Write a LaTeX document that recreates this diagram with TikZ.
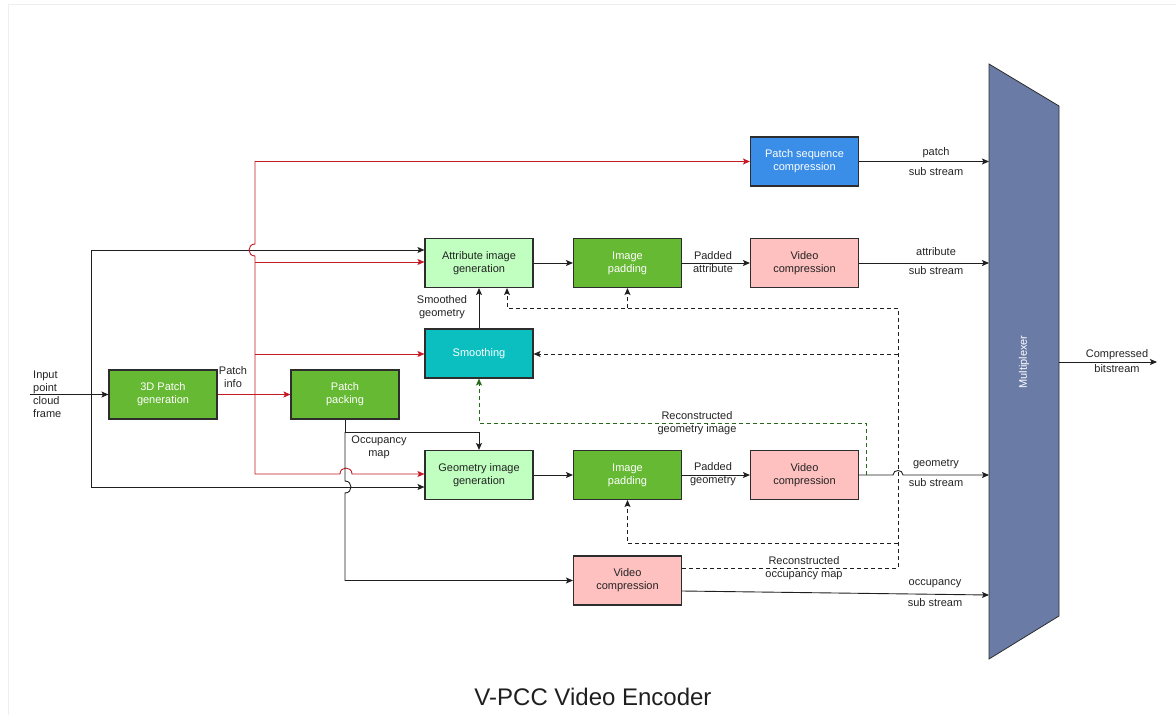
\documentclass[tikz,border=0pt]{standalone}
\usepackage{fontspec}
\setmainfont{Liberation Sans}
\usetikzlibrary{arrows.meta}
\definecolor{dgreen}{RGB}{102,185,51}
\definecolor{lgreen}{RGB}{192,255,192}
\definecolor{pinkf}{RGB}{255,192,192}
\definecolor{bluef}{RGB}{58,142,232}
\definecolor{tealf}{RGB}{11,191,192}
\definecolor{muxf}{RGB}{106,123,166}
\definecolor{redl}{RGB}{196,26,36}
\definecolor{dgline}{RGB}{40,105,25}
\definecolor{boxline}{RGB}{45,45,45}
\definecolor{txt}{RGB}{35,35,35}
\definecolor{framec}{RGB}{238,238,238}
\begin{document}
\begin{tikzpicture}[x=1pt,y=-1pt,
  box/.style={draw=boxline, line width=1.1pt, minimum width=108pt, minimum height=49pt,
    align=center, inner sep=1pt, font=\fontsize{11}{13}\selectfont},
  dgbox/.style={box, fill=dgreen, text=white},
  lgbox/.style={box, fill=lgreen, text=txt},
  pkbox/.style={box, fill=pinkf, text=txt},
  blbox/.style={box, fill=bluef, text=white},
  tlbox/.style={box, fill=tealf, text=white},
  lbl/.style={font=\fontsize{11}{13}\selectfont, text=txt, align=center, inner sep=0pt},
  conn/.style={line width=0.9pt, draw=black!88, -{Stealth[length=7pt,width=6pt,inset=1.5pt]}},
  plainln/.style={line width=0.9pt, draw=black!88},
  rconn/.style={conn, draw=redl},
  rplain/.style={plainln, draw=redl},
  dconn/.style={conn, dash pattern=on 4pt off 3pt},
  dplain/.style={plainln, dash pattern=on 4pt off 3pt},
  gconn/.style={dconn, draw=dgline}
]
\useasboundingbox (0,0) rectangle (1176,715);
\draw[framec, line width=0.8pt] (8,715) -- (8,4) -- (1176,4);

% boxes
\node[dgbox] (gen3d) at (163,394.5) {3D Patch\\generation};
\node[dgbox] (pack) at (345,394.5) {Patch\\packing};
\node[blbox] (psc) at (804.5,161.5) {Patch sequence\\compression};
\node[lgbox] (attr) at (479,263) {Attribute image\\generation};
\node[dgbox] (padA) at (627.5,263) {Image\\padding};
\node[pkbox] (vidA) at (804.5,263) {Video\\compression};
\node[tlbox] (smooth) at (479,353.5) {Smoothing};
\node[lgbox] (geo) at (479,475) {Geometry image\\generation};
\node[dgbox] (padG) at (627.5,475) {Image\\padding};
\node[pkbox] (vidG) at (804.5,475) {Video\\compression};
\node[pkbox] (vidO) at (627.5,580.5) {Video\\compression};

% multiplexer
\coordinate (mTL) at (989,64);
\coordinate (mTR) at (1059,106);
\coordinate (mBR) at (1059,616);
\coordinate (mBL) at (989,659);
\draw[fill=muxf, draw=boxline, line width=0.8pt] (mTL) -- (mTR) -- (mBR) -- (mBL) -- cycle;
\node[font=\fontsize{11}{13}\selectfont, text=white, rotate=90] (mux) at (1024,362) {Multiplexer};
\coordinate (muxR) at (1059,362);
\coordinate (out) at (1157,362);
\draw[conn] (muxR) -- (out);
\node[lbl] (lcb1) at (1117,355) {Compressed};
\node[lbl] (lcb2) at (1117,369) {bitstream};

% input
\coordinate (inS) at (30,394.5);
\coordinate (inJ) at (91,394.5);
\draw[conn] (inS) -- (gen3d.west);
\node[lbl, align=left, anchor=west] (linput) at (33,394.5) {Input\\point\\cloud\\frame};
\draw[conn] (inJ) -- (91,250) -- (attr.west |- 0,250);
\draw[conn] (inJ) -- (91,487) -- (geo.west |- 0,487);

% patch info (red)
\coordinate (pJ) at (255,394.5);
\draw[rconn] (gen3d.east) -- (pack.west);
\node[lbl] (lpi) at (233,377) {Patch\\info};
\draw[rconn] (pJ) -- (255,256) .. controls (247,256) and (247,244) .. (255,244) |- (psc.west);
\draw[rconn] (pJ) -- (255,474) -- (340,474) .. controls (340,466) and (352,466) .. (352,474) -- (geo.west |- 0,474);
\draw[rconn] (255,262) -- (attr.west |- 0,262);
\draw[rconn] (255,354) -- (smooth.west |- 0,354);

% occupancy map
\draw[conn] (pack.south) -- (345,432) -| (geo.north);
\draw[conn] (345,432) -- (345,481) .. controls (353,481) and (353,493) .. (345,493) |- (vidO.west);
\node[lbl] (lom) at (379,447.5) {Occupancy\\map};

% attribute chain
\draw[conn] (attr.east) -- (padA.west);
\draw[conn] (padA.east) -- (vidA.west);
\node[lbl] (lpa) at (713,262) {Padded\\attribute};
\draw[conn] (smooth.north) -- (attr.south);
\node[lbl] (lsg) at (442,307) {Smoothed\\geometry};

% geometry chain
\draw[conn] (geo.east) -- (padG.west);
\draw[conn] (padG.east) -- (vidG.west);
\node[lbl] (lpg) at (713,474) {Padded\\geometry};

% outputs to multiplexer
\draw[conn] (psc.east) -- (psc.east -| mTL);
\node[lbl] (ls1a) at (936,153) {patch};
\node[lbl] (ls1b) at (936,172) {sub stream};
\draw[conn] (vidA.east) -- (vidA.east -| mTL);
\node[lbl] (ls2a) at (936,252) {attribute};
\node[lbl] (ls2b) at (936,271) {sub stream};
\draw[conn] (vidG.east) -- (893,475) .. controls (893,469) and (903,469) .. (903,475) -- (vidG.east -| mTL);
\node[lbl] (ls3a) at (936,464) {geometry};
\node[lbl] (ls3b) at (936,483) {sub stream};
\draw[conn] (vidO.east |- 0,591) -- (989,595);
\node[lbl] (ls4a) at (935,584) {occupancy};
\node[lbl] (ls4b) at (935,603) {sub stream};

% reconstructed geometry (green dashed)
\coordinate (gJ) at (866,475);
\draw[gconn] (gJ) -- (866,423) -| (smooth.south);
\node[lbl] (lrg) at (697,423.5) {Reconstructed\\geometry image};

% reconstructed occupancy (black dashed)
\coordinate (dTop) at (898,308);
\draw[dconn] (vidO.east |- 0,568) -- (898,568) -- (dTop) -| ([xshift=28pt]attr.south);
\draw[dconn] (padA.south |- dTop) -- (padA.south);
\draw[dconn] (898,354) -- (smooth.east |- 0,354);
\draw[dconn] (898,543) -| (padG.south);
\node[lbl] (lro) at (804,568) {Reconstructed\\occupancy map};

% title
\node[font=\fontsize{24}{28}\selectfont, text=black!88] (title) at (593,697) {V-PCC Video Encoder};
\end{tikzpicture}
\end{document}
